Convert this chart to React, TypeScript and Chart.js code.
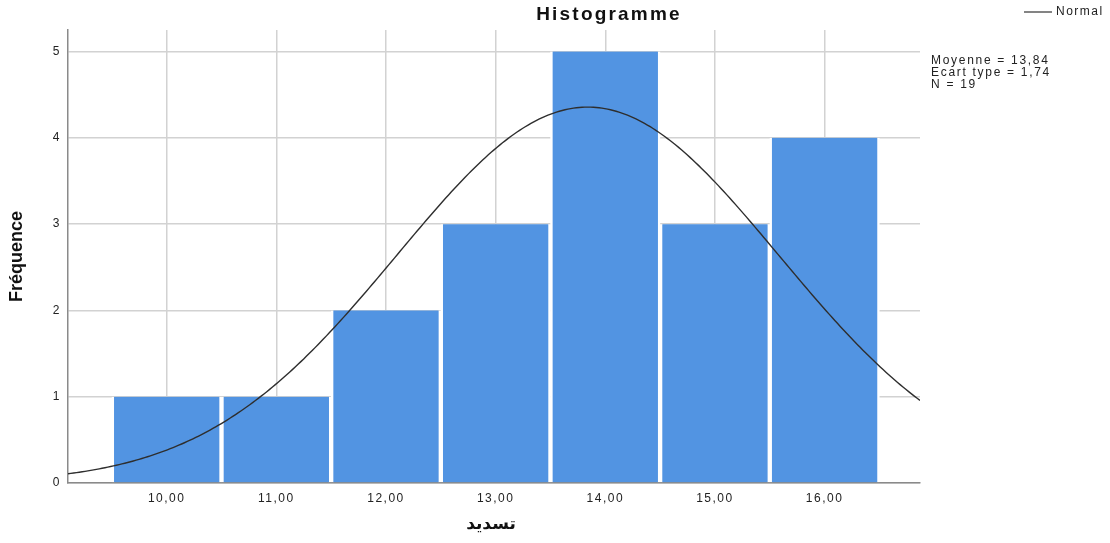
import React, { useEffect, useRef } from "react";
import { Chart, registerables } from "chart.js";

Chart.register(...registerables);

const BIN_CENTERS = [10, 11, 12, 13, 14, 15, 16];
const FREQUENCIES = [1, 1, 2, 3, 5, 3, 4];
const X_TICKS = [10, 11, 12, 13, 14, 15, 16];
const Y_TICKS = [0, 1, 2, 3, 4, 5];
const MEAN = 13.84;
const SD = 1.74;
const N = 19;
const BIN_WIDTH = 1;
const X_MIN = 9.1;
const X_MAX = 16.87;
const Y_MAX = 5.25;
const STATS_LINES = ["Moyenne = 13,84", "Ecart type = 1,74", "N = 19"];
const TITLE = "Histogramme";
const X_TITLE = "تسديد";
const Y_TITLE = "Fréquence";

const FONT = '"Liberation Sans", Arial, sans-serif';

function normalCurve() {
  const pts: { x: number; y: number }[] = [];
  const steps = 300;
  for (let i = 0; i <= steps; i++) {
    const x = X_MIN + ((X_MAX - X_MIN) * i) / steps;
    const z = (x - MEAN) / SD;
    const y = (N * BIN_WIDTH * Math.exp(-0.5 * z * z)) / (SD * Math.sqrt(2 * Math.PI));
    pts.push({ x, y });
  }
  return pts;
}

const textPlugin = {
  id: "texts",
  beforeDraw(chart: any) {
    (chart.ctx as any).letterSpacing = "1.5px";
  },
  afterDraw(chart: any) {
    const ctx = chart.ctx as any;
    const area = chart.chartArea;
    ctx.save();
    ctx.fillStyle = "#111";
    ctx.font = `bold 19px ${FONT}`;
    ctx.letterSpacing = "2.2px";
    ctx.textAlign = "center";
    ctx.textBaseline = "middle";
    ctx.fillText(TITLE, 609, 15);

    // legend
    ctx.strokeStyle = "#333";
    ctx.lineWidth = 1.2;
    ctx.beginPath();
    ctx.moveTo(1024, 12);
    ctx.lineTo(1052, 12);
    ctx.stroke();
    ctx.font = `12px ${FONT}`;
    ctx.letterSpacing = "1.5px";
    ctx.textAlign = "left";
    ctx.fillStyle = "#222";
    ctx.fillText("Normal", 1056, 12);

    ctx.letterSpacing = "1.7px";
    STATS_LINES.forEach((t, i) => {
      ctx.fillText(t, 931, 61 + i * 12);
    });

    // axis titles
    ctx.letterSpacing = "0px";
    ctx.fillStyle = "#111";
    ctx.textAlign = "center";
    ctx.font = `bold 17px "DejaVu Sans", sans-serif`;
    ctx.fillText(X_TITLE, (area.left + area.right) / 2 - 3, 525);

    ctx.save();
    ctx.translate(17, (area.top + area.bottom) / 2);
    ctx.rotate(-Math.PI / 2);
    ctx.font = `bold 18px ${FONT}`;
    ctx.fillText(Y_TITLE, 0, 0);
    ctx.restore();
    ctx.restore();
  },
};

export default function App() {
  const ref = useRef<HTMLCanvasElement>(null);
  useEffect(() => {
    if (!ref.current) return;
    const chart = new Chart(ref.current, {
      type: "bar",
      data: {
        datasets: [
          {
            type: "line",
            label: "Normal",
            data: normalCurve(),
            borderColor: "#2e2e2e",
            borderWidth: 1.4,
            pointRadius: 0,
            tension: 0,
            order: 0,
          } as any,
          {
            type: "bar",
            label: "Fréquence",
            data: BIN_CENTERS.map((x, i) => ({ x, y: FREQUENCIES[i] })),
            backgroundColor: "#5294E2",
            borderColor: "#ffffff",
            borderWidth: { left: 2.5, right: 2.5, top: 0, bottom: 0 },
            borderSkipped: false,
            barPercentage: 1,
            categoryPercentage: 1,
            order: 1,
          } as any,
        ],
      },
      options: {
        responsive: false,
        animation: false,
        devicePixelRatio: 1,
        layout: { padding: { left: 0, right: 190, top: 30, bottom: 0 } },
        plugins: {
          legend: { display: false },
          title: { display: false },
          tooltip: { enabled: false },
        },
        scales: {
          x: {
            type: "linear",
            min: X_MIN,
            max: X_MAX,
            offset: false,
            afterBuildTicks: (s: any) => {
              s.ticks = X_TICKS.map((v) => ({ value: v }));
            },
            afterFit: (s: any) => {
              s.height = 60;
            },
            ticks: {
              padding: 8,
              color: "#222",
              font: { family: FONT, size: 12 },
              maxRotation: 0,
              callback: (v: any) => Number(v).toFixed(2).replace(".", ","),
            },
            grid: { color: "#d2d2d2", lineWidth: 1.5, drawTicks: false, offset: false },
            border: { color: "#8a8a8a", width: 1.5 },
          },
          y: {
            type: "linear",
            min: 0,
            max: Y_MAX,
            afterBuildTicks: (s: any) => {
              s.ticks = Y_TICKS.map((v) => ({ value: v }));
            },
            afterFit: (s: any) => {
              s.width = 68;
            },
            ticks: {
              padding: 7,
              color: "#222",
              font: { family: FONT, size: 12 },
            },
            grid: { color: "#d2d2d2", lineWidth: 1.5, drawTicks: false },
            border: { color: "#8a8a8a", width: 1.5 },
          },
        },
      },
      plugins: [textPlugin],
    } as any);
    return () => chart.destroy();
  }, []);
  return (
    <div style={{ position: "absolute", left: 0, top: 0, width: 1110, height: 543, background: "#fff" }}>
      <canvas ref={ref} width={1110} height={543} />
    </div>
  );
}
